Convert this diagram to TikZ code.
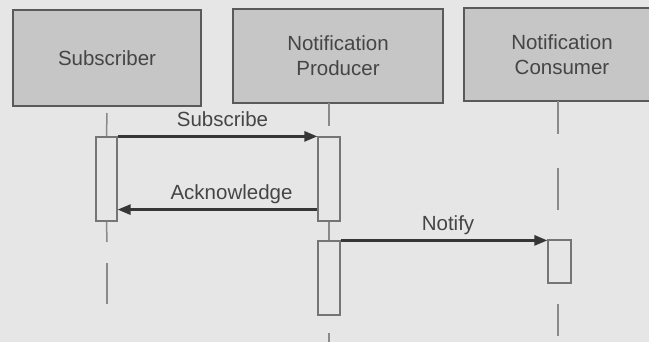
\documentclass[tikz,border=0pt]{standalone}
\usepackage{fontspec}
\setmainfont{Liberation Sans}
\usetikzlibrary{arrows.meta}
\definecolor{paper}{HTML}{E6E6E6}
\definecolor{roleFill}{HTML}{C6C6C6}
\definecolor{roleEdge}{HTML}{5A5A5A}
\definecolor{ink}{HTML}{454545}
\definecolor{lifeGray}{HTML}{8A8A8A}
\definecolor{msgInk}{HTML}{363636}
\begin{document}
\begin{tikzpicture}[x=1pt,y=-1pt,
  labelfont/.style={font=\fontsize{20.5}{25}\selectfont, text=ink},
  role/.style={draw=roleEdge, line width=1.4pt, fill=roleFill, labelfont,
    align=center, inner sep=0pt},
  activation/.style={draw=lifeGray!85!black, line width=1.2pt, fill=paper, inner sep=0pt},
  lifeline/.style={draw=lifeGray, line width=1.5pt},
  message/.style={draw=msgInk, line width=2.6pt,
    -{Triangle[length=13pt,width=10pt]}},
  msglabel/.style={labelfont, anchor=base, yshift=10pt, inner sep=0pt}
]
  % canvas
  \fill[paper] (0,0) rectangle (649,342);
  \useasboundingbox (0,0) rectangle (649,342);

  % participants
  \node[role, minimum width=188pt, minimum height=96pt] (sub) at (107,58) {Subscriber};
  \node[role, minimum width=210pt, minimum height=94pt] (prod) at (338,56) {Notification\\Producer};
  \node[role, minimum width=196pt, minimum height=93pt] (cons) at (562,54.5) {Notification\\Consumer};

  % activation bars
  \node[activation, minimum width=21pt, minimum height=84pt] (subA) at (106.5,179) {};
  \node[activation, minimum width=22pt, minimum height=84pt] (prodA) at (329,179) {};
  \node[activation, minimum width=22pt, minimum height=74pt] (prodB) at (329,278) {};
  \node[activation, minimum width=23pt, minimum height=43pt] (consA) at (559.5,261.5) {};

  % lifelines (dashed segments)
  \coordinate (s1) at (107,113); \coordinate (s2) at (107,242);
  \coordinate (s3) at (107,263); \coordinate (s4) at (107,304);
  \draw[lifeline] (s1) -- (subA.north);
  \draw[lifeline] (subA.south) -- (s2);
  \draw[lifeline] (s3) -- (s4);

  \coordinate (p0) at (329,103); \coordinate (p1) at (329,126);
  \coordinate (p2) at (329,333); \coordinate (p3) at (329,345);
  \draw[lifeline] (p0) -- (p1);
  \draw[lifeline] (prodA.south) -- (prodB.north);
  \draw[lifeline] (p2) -- (p3);

  \coordinate (c0) at (558,101.5); \coordinate (c1) at (558,134);
  \coordinate (c2) at (558,168); \coordinate (c3) at (558,210);
  \coordinate (c4) at (558,304); \coordinate (c5) at (558,336);
  \draw[lifeline] (c0) -- (c1);
  \draw[lifeline] (c2) -- (c3);
  \draw[lifeline] (c4) -- (c5);

  % messages
  \draw[message] (subA.north east) -- (prodA.north west)
    node[msglabel, midway, xshift=5pt] {Subscribe};
  \draw[message] ([yshift=12pt]prodA.south west) -- ([yshift=12pt]subA.south east)
    node[msglabel, midway, xshift=14pt] {Acknowledge};
  \draw[message] (prodB.north east) -- (prodB.north east -| consA.west)
    node[msglabel, midway, xshift=4pt] {Notify};
\end{tikzpicture}
\end{document}
